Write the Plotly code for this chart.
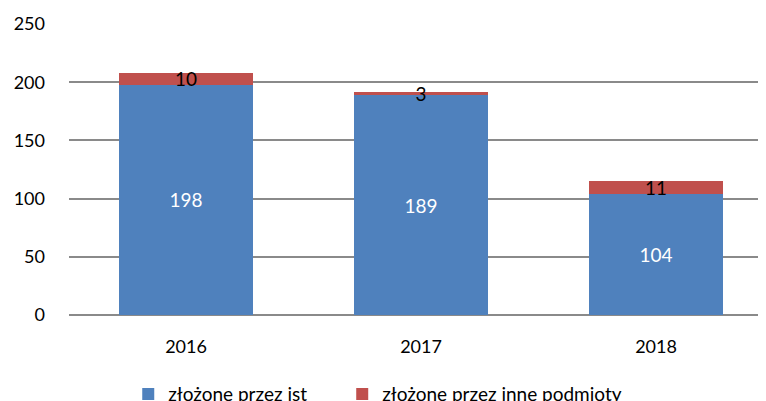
import plotly.graph_objects as go

years = ["2016", "2017", "2018"]
jst = [198, 189, 104]
inne = [10, 3, 11]
series_names = ["złożone przez jst", "złożone przez inne podmioty"]
y_ticks = [0, 50, 100, 150, 200, 250]

FONT = "Lato, 'Open Sans', sans-serif"

fig = go.Figure()
fig.add_trace(go.Bar(
    x=years, y=jst, name=series_names[0],
    marker=dict(color="#4F81BD", line=dict(width=0)),
    text=[str(v) for v in jst], textposition="inside", insidetextanchor="middle",
    textangle=0,
    textfont=dict(color="white", size=19, family=FONT),
    constraintext="none", width=0.57, legend="legend",
))
fig.add_trace(go.Bar(
    x=years, y=inne, name=series_names[1],
    marker=dict(color="#C0504D", line=dict(width=0)),
    text=[str(v) for v in inne], textposition="inside", insidetextanchor="middle",
    textangle=0,
    textfont=dict(color="black", size=19, family=FONT),
    constraintext="none", width=0.57, legend="legend2",
))

legend_common = dict(
    orientation="h", xanchor="left", y=-0.272, yanchor="middle",
    font=dict(size=19, family=FONT, color="black"),
    bgcolor="rgba(0,0,0,0)",
)

fig.update_layout(
    barmode="stack",
    width=758, height=393,
    margin=dict(l=61, r=0, t=16, b=86, autoexpand=False),
    paper_bgcolor="white", plot_bgcolor="white",
    font=dict(family=FONT, size=18, color="black"),
    showlegend=True,
    legend=dict(x=0.085, **legend_common),
    legend2=dict(x=0.392, **legend_common),
    xaxis=dict(
        type="category", range=[-0.498, 2.468], automargin=False,
        showgrid=False, showline=False, zeroline=False,
        ticks="", ticklabelstandoff=19,
        tickfont=dict(size=18, family=FONT),
    ),
    yaxis=dict(
        range=[0, 250], tickvals=y_ticks, automargin=False,
        showgrid=True, gridcolor="#8A8A8A", gridwidth=1.5,
        zeroline=True, zerolinecolor="#8A8A8A", zerolinewidth=2,
        showline=False, ticks="", ticklabelstandoff=23,
        tickfont=dict(size=18, family=FONT),
    ),
)

fig.write_html("out.html")
